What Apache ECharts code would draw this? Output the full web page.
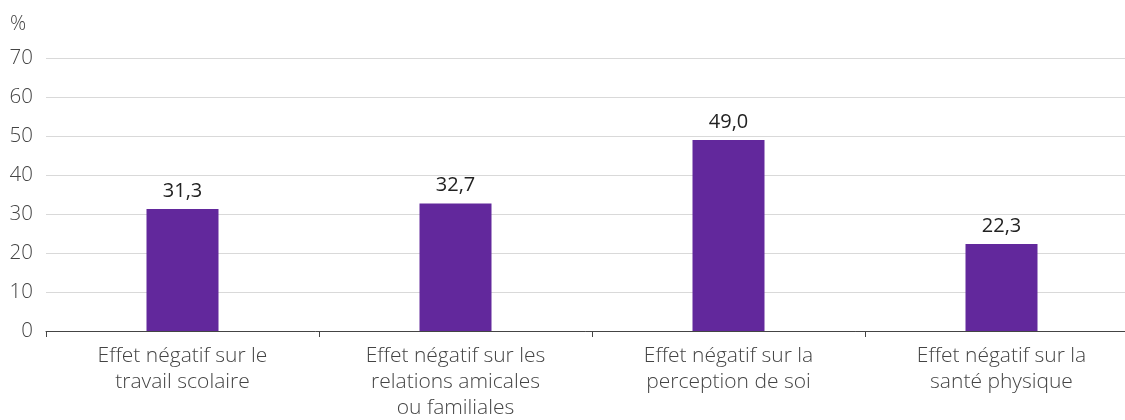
<!DOCTYPE html>
<html>
<head>
<meta charset="utf-8">
<script src="https://cdn.jsdelivr.net/npm/echarts@6/dist/echarts.min.js"></script>
<style>
  html, body { margin: 0; padding: 0; background: #fff; }
  #chart { width: 1125px; height: 420px; }
</style>
</head>
<body>
<div id="chart"></div>
<script>
// catégories et valeurs (%)
var categories = [
  'Effet négatif sur le\ntravail scolaire',
  'Effet négatif sur les\nrelations amicales\nou familiales',
  'Effet négatif sur la\nperception de soi',
  'Effet négatif sur la\nsanté physique'
];
var values = [31.3, 32.7, 49.0, 22.3];
var yTicks = [0, 10, 20, 30, 40, 50, 60, 70];

var font = '"Open Sans", "Noto Sans", sans-serif';
var chart = echarts.init(document.getElementById('chart'));

var option = {
  animation: false,
  grid: {
    left: 46,
    right: -13,
    top: 58,
    bottom: 89,
    outerBoundsMode: 'none',
    containLabel: false
  },
  xAxis: {
    type: 'category',
    data: categories,
    axisLine: { lineStyle: { color: '#444', width: 1 } },
    axisTick: { show: true, length: 6, lineStyle: { color: '#444' } },
    axisLabel: {
      interval: 0,
      margin: 12,
      color: '#444',
      fontFamily: font,
      fontWeight: 300,
      fontSize: 21,
      lineHeight: 26
    }
  },
  yAxis: {
    type: 'value',
    min: yTicks[0],
    max: yTicks[yTicks.length - 1],
    interval: 10,
    name: '%',
    nameGap: 24,
    nameTextStyle: {
      color: '#444',
      fontFamily: font,
      fontWeight: 300,
      fontSize: 20,
      align: 'left',
      padding: [0, 0, 0, -36]
    },
    axisLine: { show: false },
    axisTick: { show: false },
    splitLine: { lineStyle: { color: '#d9d9d9', width: 1 } },
    axisLabel: {
      margin: 13,
      color: '#444',
      fontFamily: font,
      fontWeight: 300,
      fontSize: 20.5
    }
  },
  series: [{
    type: 'bar',
    data: values,
    barWidth: 72,
    itemStyle: { color: '#62289c' },
    label: {
      show: true,
      position: 'top',
      distance: 8,
      color: '#222',
      fontFamily: font,
      fontWeight: 400,
      fontSize: 20,
      formatter: function (p) {
        return p.value.toFixed(1).replace('.', ',');
      }
    }
  }]
};

chart.setOption(option);
</script>
</body>
</html>
